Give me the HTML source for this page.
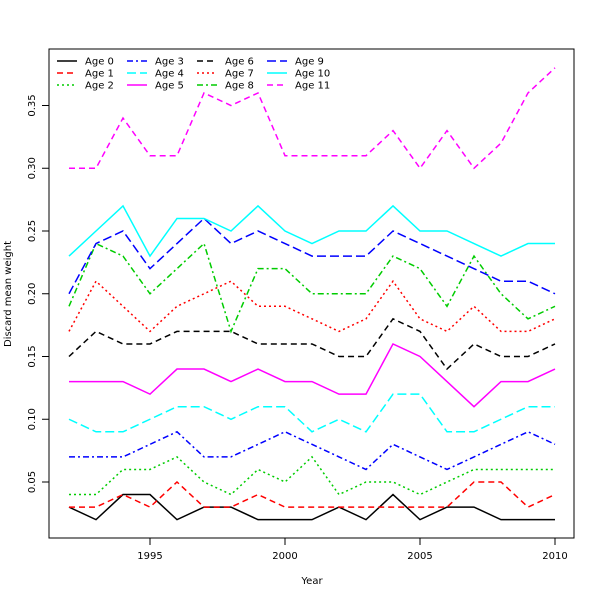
<!DOCTYPE html>
<html><head><meta charset="utf-8"><style>body{margin:0;background:#fff}svg{display:block;font-family:"DejaVu Sans","Liberation Sans",sans-serif}</style></head>
<body>
<svg id="c" width="600" height="600"></svg>
<script>
const years=[1992,1993,1994,1995,1996,1997,1998,1999,2000,2001,2002,2003,2004,2005,2006,2007,2008,2009,2010];
const age0=[.03,.02,.04,.04,.02,.03,.03,.02,.02,.02,.03,.02,.04,.02,.03,.03,.02,.02,.02];
const age1=[.03,.03,.04,.03,.05,.03,.03,.04,.03,.03,.03,.03,.03,.03,.03,.05,.05,.03,.04];
const age2=[.04,.04,.06,.06,.07,.05,.04,.06,.05,.07,.04,.05,.05,.04,.05,.06,.06,.06,.06];
const age3=[.07,.07,.07,.08,.09,.07,.07,.08,.09,.08,.07,.06,.08,.07,.06,.07,.08,.09,.08];
const age4=[.10,.09,.09,.10,.11,.11,.10,.11,.11,.09,.10,.09,.12,.12,.09,.09,.10,.11,.11];
const age5=[.13,.13,.13,.12,.14,.14,.13,.14,.13,.13,.12,.12,.16,.15,.13,.11,.13,.13,.14];
const age6=[.15,.17,.16,.16,.17,.17,.17,.16,.16,.16,.15,.15,.18,.17,.14,.16,.15,.15,.16];
const age7=[.17,.21,.19,.17,.19,.20,.21,.19,.19,.18,.17,.18,.21,.18,.17,.19,.17,.17,.18];
const age8=[.19,.24,.23,.20,.22,.24,.17,.22,.22,.20,.20,.20,.23,.22,.19,.23,.20,.18,.19];
const age9=[.20,.24,.25,.22,.24,.26,.24,.25,.24,.23,.23,.23,.25,.24,.23,.22,.21,.21,.20];
const age10=[.23,.25,.27,.23,.26,.26,.25,.27,.25,.24,.25,.25,.27,.25,.25,.24,.23,.24,.24];
const age11=[.30,.30,.34,.31,.31,.36,.35,.36,.31,.31,.31,.31,.33,.30,.33,.30,.32,.36,.38];
const seriesNames=["Age 0","Age 1","Age 2","Age 3","Age 4","Age 5","Age 6","Age 7","Age 8","Age 9","Age 10","Age 11"];
const xTicks=[1995,2000,2005,2010];
const yTicks=[0.05,0.10,0.15,0.20,0.25,0.30,0.35];
const series=[age0,age1,age2,age3,age4,age5,age6,age7,age8,age9,age10,age11];
const cols=["#000","#f00","#0c0","#00f","#0ff","#f0f"];
const dashes=["","6,4","2,3","6,3,2,3","9,4"];
const X=y=>69+(y-1992)*27;
const Y=v=>482-(v-0.05)*1255;
const svg=document.getElementById('c');const NS="http://www.w3.org/2000/svg";
function mk(t,a,p){const e=document.createElementNS(NS,t);for(const k in a)e.setAttribute(k,a[k]);(p||svg).appendChild(e);return e;}
const frame=mk('rect',{x:49,y:49,width:525,height:489,fill:'none',stroke:'#000'});


xTicks.forEach(t=>{const x=X(t);
 const l=mk('line',{x1:x,x2:x,y1:538,y2:545,stroke:'#000'});
 
 
 const tx=mk('text',{x:x,y:559,'font-size':10,'text-anchor':'middle'});tx.textContent=t;
 
 });
yTicks.forEach(t=>{const y=Y(t);
 const l=mk('line',{x1:42,x2:49,y1:y,y2:y,stroke:'#000'});
 
 
 const tx=mk('text',{x:0,y:0,'font-size':10,'text-anchor':'middle',transform:`translate(35,${y}) rotate(-90)`});tx.textContent=t.toFixed(2);
 
 });
const xt=mk('text',{x:312,y:584,'font-size':10,'text-anchor':'middle'});xt.textContent='Year';


const yt=mk('text',{x:0,y:0,'font-size':10,'text-anchor':'middle',transform:'translate(11,294) rotate(-90)'});yt.textContent='Discard mean weight';


series.forEach((s,i)=>{
 const pts=s.map((v,j)=>X(years[j])+','+Y(v)).join(' ');
 const pl=mk('polyline',{points:pts,fill:'none',stroke:cols[i%6],'stroke-width':1.5,'stroke-dasharray':dashes[i%5]});
 
 
 const c=Math.floor(i/3),r=i%3;const lx=57+c*70,ly=61+r*12;
 const g=mk('g',{});
 
 
 mk('line',{x1:lx,x2:lx+20,y1:ly,y2:ly,stroke:cols[i%6],'stroke-width':1.5,'stroke-dasharray':dashes[i%5]},g);
 const t=mk('text',{x:lx+28,y:ly+3.5,'font-size':10},g);t.textContent=seriesNames[i];
});
</script>
</body></html>
